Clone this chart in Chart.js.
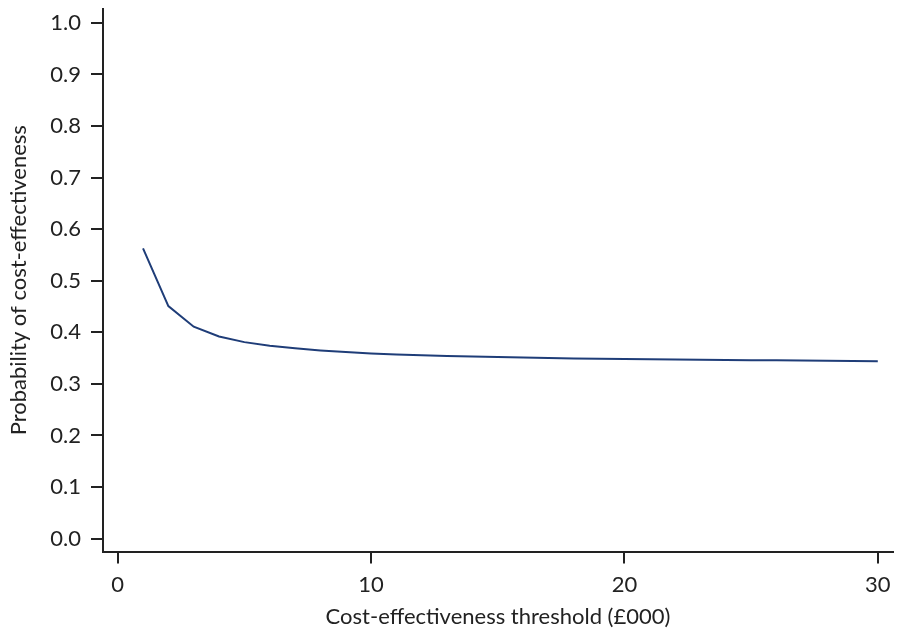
<!DOCTYPE html>
<html>
<head>
<meta charset="utf-8">
<script src="https://cdn.jsdelivr.net/npm/chart.js@4"></script>
<style>
html,body{margin:0;padding:0;background:#fff;}
#wrap{width:898px;height:635px;}
</style>
</head>
<body>
<div id="wrap"><canvas id="c" width="898" height="635"></canvas></div>
<script>
const thresholds = [1,2,3,4,5,6,7,8,9,10,11,12,13,14,15,16,17,18,19,20,21,22,23,24,25,26,27,28,29,30];
const probability = [0.563,0.451,0.411,0.392,0.381,0.374,0.369,0.365,0.362,0.359,0.357,0.3555,0.354,0.353,0.352,0.351,0.350,0.3495,0.349,0.3485,0.348,0.3475,0.347,0.3465,0.346,0.3457,0.3453,0.345,0.3445,0.344];
const xTicks = [0,10,20,30];
const yTicks = [0,0.1,0.2,0.3,0.4,0.5,0.6,0.7,0.8,0.9,1.0];
const xTitle = 'Cost-effectiveness threshold (£000)';
const yTitle = 'Probability of cost-effectiveness';

const font = {family: 'Lato', size: 22};
const ink = '#222';

new Chart(document.getElementById('c'), {
  type: 'line',
  data: {
    datasets: [{
      data: thresholds.map((t, i) => ({x: t, y: probability[i]})),
      borderColor: '#1f3d78',
      borderWidth: 2,
      pointRadius: 0,
      tension: 0,
      fill: false
    }]
  },
  options: {
    responsive: false,
    animation: false,
    devicePixelRatio: 1,
    layout: {padding: {top: 9, right: 5, left: 0, bottom: 0}},
    plugins: {legend: {display: false}, tooltip: {enabled: false}},
    scales: {
      x: {
        type: 'linear',
        min: -0.58,
        max: 30.6,
        afterBuildTicks: s => { s.ticks = xTicks.map(v => ({value: v})); },
        afterFit: s => { s.height = 83.5; s.paddingLeft = 0; s.paddingRight = 0; },
        grid: {display: true, drawOnChartArea: false, drawTicks: true, tickLength: 12, color: ink, lineWidth: 2},
        border: {display: true, color: ink, width: 2},
        ticks: {font: font, color: ink, padding: 8, maxRotation: 0, callback: v => String(v)},
        title: {display: true, text: xTitle, font: font, color: ink, padding: {top: 4, bottom: 5}}
      },
      y: {
        type: 'linear',
        min: -0.025,
        max: 1.027,
        afterBuildTicks: s => { s.ticks = yTicks.map(v => ({value: v})); },
        afterFit: s => { s.width = 103; s.paddingTop = 0; s.paddingBottom = 0; },
        grid: {display: true, drawOnChartArea: false, drawTicks: true, tickLength: 12, color: ink, lineWidth: 2},
        border: {display: true, color: ink, width: 2},
        ticks: {font: font, color: ink, padding: 10, callback: v => Number(v).toFixed(1)},
        title: {display: true, text: yTitle, font: font, color: ink, padding: {top: 6, bottom: 4}}
      }
    }
  }
});
</script>
</body>
</html>
